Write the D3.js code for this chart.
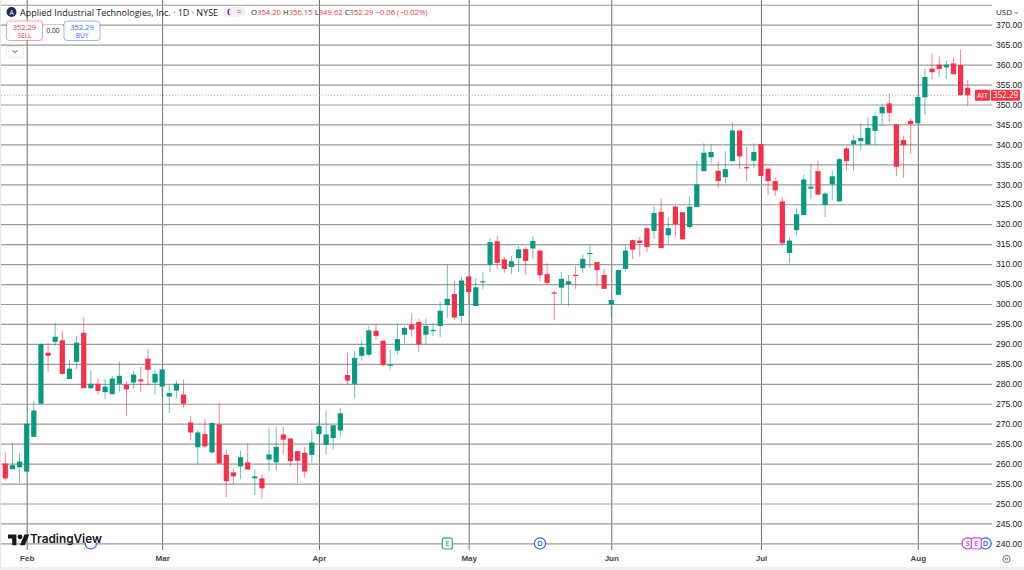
<!DOCTYPE html>
<html lang="en">
<head>
<meta charset="UTF-8">
<title>AIT 1D</title>
<script src="https://d3js.org/d3.v7.min.js"></script>
<style>
  html, body { margin: 0; padding: 0; background: #fff; }
  svg { display: block; font-family: "Open Sans", Roboto, sans-serif; }
  .grid line { stroke: #9a9a9a; stroke-width: 1.2; }
  .vgrid line { stroke: #6e6e6e; stroke-width: 1; }
  .grid path, .vgrid path, .labels path { display: none; }
  .labels line { display: none; }
  .labels text { fill: #131722; font-size: 8.5px; }
</style>
</head>
<body>
<svg id="chart" width="1024" height="570"></svg>
<script>
const opens = [
  260,258.6,259.1,258,266.7,275,287.8,290.5,290.9,281.2,
  285.5,292.8,278.9,280,277.9,277.4,280,279.8,280.3,281.1,
  286.3,280.3,279.3,276.8,278.3,277.3,270.3,264.1,267.4,262.8,
  269.8,262.2,257.8,259.3,260.3,256.3,256.3,261,260.3,267.3,
  266.3,263.1,262.7,262.2,267.4,264.7,266.4,268.3,282.2,280,
  287,287.3,293.3,290.8,284.6,288.3,292.3,294.8,295.5,292.3,
  293.3,294.5,299.7,302.5,297,306.9,299.5,305.5,309.8,315.7,
  311.2,309.3,311.5,313.8,313.9,313.4,307.5,302.9,304.1,305,
  307.3,309,312.6,310.5,307.3,299.9,302.3,308.8,316,315.9,
  319,318.3,323.1,317.2,324.4,323,319.3,324.3,333.3,336.8,
  333.4,331.8,335.8,343.5,334.3,335.9,340.1,333.9,330.8,325.7,
  312.8,318.5,322.3,328.9,333.3,324.8,330,325.7,339,340,
  340.8,340,343.4,347.8,350.3,345,341.1,345.9,345.3,351.8,
  359,360,359.3,360.3,359.9,354.2
];
const closes = [
  256.3,259.6,260.5,270,273.3,290,287,291.8,282.5,283.8,
  290.3,278.9,280,278.2,279.3,281.3,282,278.6,282.3,280.6,
  283.5,282.5,283.6,277.7,280,275,267.8,267.8,264.3,270.2,
  260,255.6,256.8,261.6,258.5,256.8,253.8,262.3,264.2,266,
  260.6,260.7,258,265.3,269.4,267.3,269.6,272.6,280.8,286.5,
  289.2,293.4,292,284.7,284.8,291.2,294,293.6,289.9,294.5,
  293.5,298.3,301.3,296.6,305.9,303,304.2,305.7,315.5,310.3,
  308.8,310.7,313.7,310.8,315.8,307.2,305.3,302.6,306.3,305.7,
  307.1,311.3,312.8,308.5,303.8,301,308.5,313.4,313.6,315.3,
  314.3,322.8,314,319,320,316.2,324.4,330,337.9,338.1,
  330.8,333.8,343.5,337,334,338.1,332.1,330.8,328.5,315.2,
  315.9,322.5,331.2,329.4,327.4,327.7,332,336.3,335.8,341,
  341.6,344.1,347.1,349.4,347.9,334.4,339.8,345.1,351.9,356.9,
  358.1,358.9,360,357.6,352.35,352.29
];
const highs = [
  262.8,265.3,262.5,270,275.6,290,290.3,295.3,293.3,286,
  292,296.7,283.2,281.5,281.3,282,285.5,280.6,283.2,284.3,
  288.8,283.5,283.6,279.6,280.8,281.1,272,268.5,271.2,270.3,
  275.2,263.5,258.8,263.2,265,258.5,257.5,268.9,269.2,269.3,
  266.3,263.2,264.2,268.5,270.6,273.3,269.6,274,287.7,288.2,
  290.8,294.5,295,290.8,288.5,295,294.5,297.5,296.2,296.3,
  295.3,300.5,309.8,305.8,306.8,307,306.5,308,316.5,317,
  311.8,312,314.5,314.3,317,313.5,310.2,303.4,308,307.3,
  309.5,312.5,314.9,310.5,308.8,301,308.7,314.6,316.1,316.8,
  319.1,324.5,326.5,321.7,324.8,323,327,335.9,340.3,340,
  335.6,338.3,345.5,343.5,339.3,340.3,340.2,334.2,331.7,326.7,
  316.8,324.2,332.4,335.2,335.8,328,333.4,336.7,339.5,342.3,
  345.3,346.8,348.1,350,352.8,345.1,342.2,346.6,351.9,359,
  362.9,362,361.1,361.7,363.7,356.15
];
const lows = [
  255.7,258.6,255.2,258,266.7,275,283,289.5,282.2,281.2,
  283.6,278.9,278.6,277.3,276.1,277.4,278,272,278.8,278,
  279.6,277.3,276.8,272.7,276.3,274.1,265.8,259.7,264,262.5,
  260,251.6,254.8,256.1,258.5,252.1,251.1,258,258.3,262.4,
  259.3,255.2,256.4,260.2,267.4,262.3,263.5,266.7,279.8,276.4,
  285.8,286.8,291,284.3,283.6,287.3,290.2,291.8,288,290,
  292,291.7,296.5,296,295.2,300,299.5,303.8,308,308.8,
  307.8,307.5,308.1,307.3,311.4,305.7,304.7,295.9,299.8,299.5,
  303.8,307.7,309,304.3,303.8,296.4,302.3,308.2,311.3,311.8,
  313,316.3,314,315,316.8,316.2,318.8,324.3,333.3,335.3,
  329,330.2,335.8,333.8,330.8,334.1,332.1,327.3,327.1,314.6,
  310.2,317.3,322.3,326.3,327.4,321.8,326,325.7,333.5,333.3,
  338.6,340,339.8,344.6,345.6,332.1,331.6,337.6,345.3,347.4,
  356.3,356.9,356.4,357.6,352.2,349.62
];
const monthBars = [3, 22, 44, 65, 85, 106, 128];
const monthNames = ["Feb", "Mar", "Apr", "May", "Jun", "Jul", "Aug"];
const priceTicks = [240,245,250,255,260,265,270,275,280,285,290,295,300,305,310,315,320,325,330,335,340,345,350,355,360,365,370,375];
const lastPrice = 352.29;
// the first D sits behind the logo in the reference, only its lower arc shows
const eventBars = [12, 62, 75, 137.5, 135, 136.2];
const eventKinds = ["", "E", "D", "D", "S", "E"];
const eventColors = ["#2962ff", "#22ab94", "#2962ff", "#2962ff", "#b03fd6", "#e040fb"];

const up = "#089981", down = "#f7304a";
const plotW = 992, plotH = 550;

const svg = d3.select("#chart");
const x = d3.scaleLinear().domain([0, 135]).range([5.3, 967.7]);
const y = d3.scaleLinear().domain([240, 370]).range([543.4, 24.7]);

// light frame of the widget
svg.append("rect").attr("x", 0).attr("y", 0).attr("width", 1).attr("height", 570).attr("fill", "#e6e6e6");
svg.append("rect").attr("x", 0).attr("y", 567).attr("width", 1024).attr("height", 3).attr("fill", "#f0f0f0");

// grid
svg.append("g").attr("class", "vgrid").attr("transform", `translate(0,${plotH})`)
  .call(d3.axisBottom(x).tickValues(monthBars).tickSize(-plotH).tickFormat(""));
svg.append("g").attr("class", "grid").attr("transform", `translate(${plotW},0)`)
  .call(d3.axisLeft(y).tickValues(priceTicks).tickSize(plotW - 1).tickFormat(""));

// axes labels
const yLabels = svg.append("g").attr("class", "labels").attr("transform", `translate(${plotW},0)`)
  .call(d3.axisRight(y).tickValues(priceTicks.filter(d => d < 375)).tickSize(0).tickPadding(4).tickFormat(d => d.toFixed(2)));
const xLabels = svg.append("g").attr("class", "labels").attr("transform", `translate(0,${plotH})`)
  .call(d3.axisBottom(x).tickValues(monthBars).tickSize(0).tickPadding(5).tickFormat((d, i) => monthNames[i]));
xLabels.selectAll("text").style("font-weight", 600).style("fill", "#434651").style("font-size", "8px");

// last price line
svg.append("line").attr("x1", 1).attr("x2", plotW).attr("y1", y(lastPrice)).attr("y2", y(lastPrice))
  .attr("stroke", "#e58a94").attr("stroke-width", 0.8).attr("stroke-dasharray", "1 2");

// events sit under the candles and the logo
const ev = svg.append("g").selectAll("g").data(eventBars).join("g")
  .attr("transform", d => `translate(${x(d)},${y(240)})`);
ev.filter((d, i) => eventKinds[i] !== "E").append("circle").attr("r", 5.6).attr("fill", "#fff")
  .attr("stroke", (d) => eventColors[eventBars.indexOf(d)]).attr("stroke-width", 1.2);
ev.filter((d, i) => eventKinds[i] === "E").append("rect")
  .attr("x", -5).attr("y", -5.6).attr("width", 10).attr("height", 11.2).attr("rx", 2)
  .attr("fill", "#fff").attr("stroke", (d) => eventColors[eventBars.indexOf(d)]).attr("stroke-width", 1.2);
ev.append("text").attr("text-anchor", "middle").attr("y", 2.8).attr("font-size", 7.5).attr("font-weight", 600)
  .attr("fill", (d, i) => eventColors[i]).text((d, i) => eventKinds[i]);

// candles
const candles = svg.append("g").selectAll("g").data(opens).join("g");
candles.append("line")
  .attr("x1", (d, i) => x(i)).attr("x2", (d, i) => x(i))
  .attr("y1", (d, i) => y(highs[i])).attr("y2", (d, i) => y(lows[i]))
  .attr("stroke", (d, i) => closes[i] >= d ? up : down)
  .attr("stroke-opacity", 0.6).attr("stroke-width", 1);
candles.append("rect")
  .attr("x", (d, i) => x(i) - 2.6).attr("width", 5.2)
  .attr("y", (d, i) => y(Math.max(d, closes[i])))
  .attr("height", (d, i) => Math.max(1.2, Math.abs(y(d) - y(closes[i]))))
  .attr("fill", (d, i) => closes[i] >= d ? up : down);

// price tag
svg.append("rect").attr("x", 975).attr("y", y(lastPrice) - 5.5).attr("width", 15).attr("height", 11).attr("rx", 1).attr("fill", "#f23645");
svg.append("rect").attr("x", 991).attr("y", y(lastPrice) - 5.5).attr("width", 29).attr("height", 11).attr("rx", 1).attr("fill", "#f23645");
svg.append("text").attr("x", 982.5).attr("y", y(lastPrice) + 2.8).attr("text-anchor", "middle").attr("font-size", 7.5).attr("fill", "#fff").text("AIT");
svg.append("text").attr("x", 1005.5).attr("y", y(lastPrice) + 3).attr("text-anchor", "middle").attr("font-size", 8.2).attr("fill", "#fff").text(lastPrice.toFixed(2));

// USD box
svg.append("rect").attr("x", 993).attr("y", 5).attr("width", 31).attr("height", 13).attr("fill", "#fff");
svg.append("text").attr("x", 996).attr("y", 15).attr("font-size", 8).attr("fill", "#131722").text("USD");
svg.append("path").attr("d", "M1014.5 12l1.7 1.7 1.7-1.7").attr("fill", "none").attr("stroke", "#444").attr("stroke-width", 0.8);

// header
svg.append("circle").attr("cx", 11.5).attr("cy", 12).attr("r", 5).attr("fill", "#1f2a5a");
svg.append("text").attr("x", 11.5).attr("y", 14.5).attr("text-anchor", "middle").attr("font-size", 6.5).attr("fill", "#fff").text("A");
svg.append("text").attr("x", 20).attr("y", 15.5).attr("font-size", 9).attr("fill", "#131722").text("Applied Industrial Technologies, Inc. · 1D · NYSE");
svg.append("rect").attr("x", 223).attr("y", 7).attr("width", 23).attr("height", 10).attr("rx", 5).attr("fill", "#f6eef8");
svg.append("path").attr("d", "M230.5 8.8a3.2 3.2 0 1 0 0 6.4a4 4 0 0 1 0-6.4z").attr("fill", "#8e24aa");
svg.append("text").attr("x", 239).attr("y", 15).attr("text-anchor", "middle").attr("font-size", 9).attr("fill", "#d81b60").text("=");

const ohlc = [["O", "354.20"], ["H", "356.15"], ["L", "349.62"], ["C", "352.29"]];
const head = svg.append("text").attr("x", 251).attr("y", 15.2).attr("font-size", 7.7);
ohlc.forEach(p => {
  head.append("tspan").attr("fill", "#131722").text(p[0]);
  head.append("tspan").attr("fill", "#f23645").text(p[1] + " ");
});
head.append("tspan").attr("fill", "#f23645").text("−0.06 (−0.02%)");

// sell and buy buttons
[[6, "#f23645", "SELL"], [63.5, "#2962ff", "BUY"]].forEach(b => {
  svg.append("rect").attr("x", b[0] + 0.5).attr("y", 21).attr("width", 36).attr("height", 19.5).attr("rx", 3)
    .attr("fill", "#fff").attr("stroke", b[1]).attr("stroke-opacity", 0.6).attr("stroke-width", 0.8);
  svg.append("text").attr("x", b[0] + 18.5).attr("y", 29.5).attr("text-anchor", "middle").attr("font-size", 7.5).attr("fill", b[1]).text("352.29");
  svg.append("text").attr("x", b[0] + 18.5).attr("y", 38).attr("text-anchor", "middle").attr("font-size", 6.5).attr("fill", b[1]).text(b[2]);
});
svg.append("rect").attr("x", 44).attr("y", 25).attr("width", 18).attr("height", 11).attr("fill", "#fff");
svg.append("text").attr("x", 53).attr("y", 33).attr("text-anchor", "middle").attr("font-size", 6.5).attr("fill", "#131722").text("0.00");
svg.append("rect").attr("x", 6.5).attr("y", 46.5).attr("width", 17).attr("height", 11).attr("rx", 2)
  .attr("fill", "#fff").attr("stroke", "#e0e3eb").attr("stroke-width", 0.7);
svg.append("path").attr("d", "M12.5 50.5l2.5 2 2.5-2").attr("fill", "none").attr("stroke", "#333").attr("stroke-width", 0.9);

// logo, its backdrop hides the top of the marker behind it
svg.append("rect").attr("x", 29).attr("y", 531).attr("width", 73).attr("height", 11.6).attr("fill", "#fff");
const logo = svg.append("g").attr("transform", "translate(8,532) scale(0.6)");
logo.append("path").attr("d", "M14 22H7V11H0V4h14v18zM28 22h-8l7.5-18h8L28 22z").attr("fill", "#131722");
logo.append("circle").attr("cx", 20).attr("cy", 8).attr("r", 4).attr("fill", "#131722");
svg.append("text").attr("x", 30).attr("y", 543).attr("font-size", 11.8).attr("font-weight", 600)
  .attr("font-family", "Inter, Roboto, sans-serif").attr("fill", "#131722").text("TradingView");

// settings icon bottom right
svg.append("circle").attr("cx", 1006.5).attr("cy", 559).attr("r", 3.6).attr("fill", "none").attr("stroke", "#555").attr("stroke-width", 0.8);
svg.append("circle").attr("cx", 1006.5).attr("cy", 559).attr("r", 1.2).attr("fill", "none").attr("stroke", "#555").attr("stroke-width", 0.7);
</script>
</body>
</html>
